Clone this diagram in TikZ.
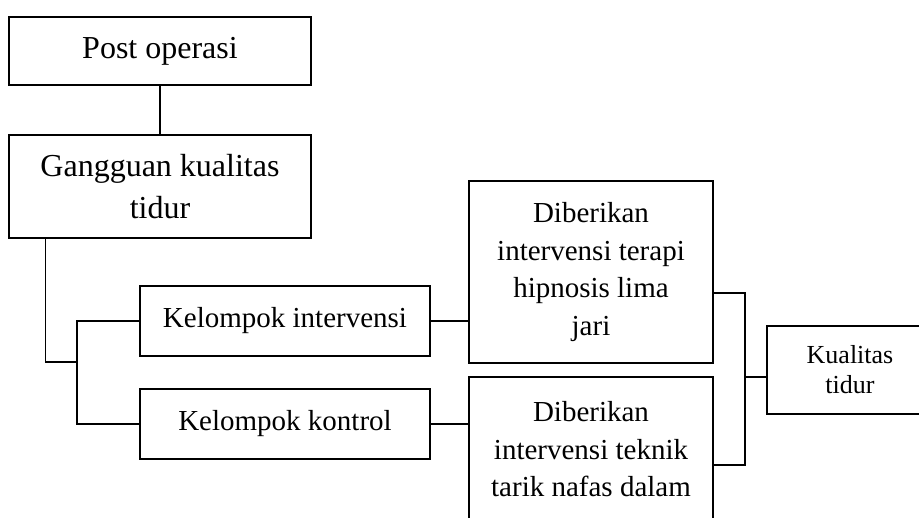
\documentclass[tikz,border=0pt]{standalone}
\usepackage{fontspec}
\setmainfont{Liberation Serif}
\usetikzlibrary{calc}
\usetikzlibrary{positioning}
\tikzset{block/.style={draw, line width=1.1pt, align=center, inner sep=0pt, font=\fontsize{29}{37.5}\selectfont}}
\tikzset{connect/.style={draw, line width=1.1pt}}

\begin{document}
\begin{tikzpicture}[x=1pt,y=-1pt]
\useasboundingbox (0,0) rectangle (919,518);
\clip (0,0) rectangle (919,518);

\node[block,minimum width=302pt,minimum height=68pt,font=\fontsize{32}{42}\selectfont] (post) at (160,51) {Post operasi};
\node[block,minimum width=302pt,minimum height=103pt,font=\fontsize{32}{42}\selectfont] (gangguan) at([yshift=-135.5pt]post) {Gangguan kualitas\\tidur};
\node[block,minimum width=290pt,minimum height=70pt] (ki) at([xshift=125pt,yshift=-134.5pt]gangguan) {Kelompok intervensi};
\node[block,minimum width=290pt,minimum height=70pt] (kk) at([yshift=-103pt]ki) {Kelompok kontrol};
\node[block,minimum width=244pt,minimum height=182pt] (d1) at([xshift=306pt,yshift=49pt]ki) {Diberikan\\intervensi terapi\\hipnosis lima\\jari};
\node[block,minimum width=244pt,minimum height=182pt] (d2) at([yshift=-196pt]d1) {Diberikan\\intervensi teknik\\tarik nafas dalam\\\mbox{}};
\node[block,minimum width=166pt,minimum height=88pt,font=\fontsize{26}{30}\selectfont] (kual) at([xshift=259pt,yshift=-98pt]d1) {Kualitas\\tidur};

\coordinate (lsplit) at (77,362);
\coordinate (rsplit) at (745,377);

\path[connect] (post.south) -- (gangguan.north);
\path[connect] ([xshift=37pt]gangguan.south west) |- (lsplit);
\path[connect] (ki.west) -| (lsplit) |- (kk.west);

\path[connect] (ki.east) -- (ki.east -| d1.west);
\path[connect] (kk.east) -- (kk.east -| d2.west);

\path[connect] ([yshift=-21pt]d1.east) -| (rsplit) |- ([yshift=3pt]d2.east);
\path[connect] (rsplit) -- (rsplit -| kual.west);

\end{tikzpicture}
\end{document}
